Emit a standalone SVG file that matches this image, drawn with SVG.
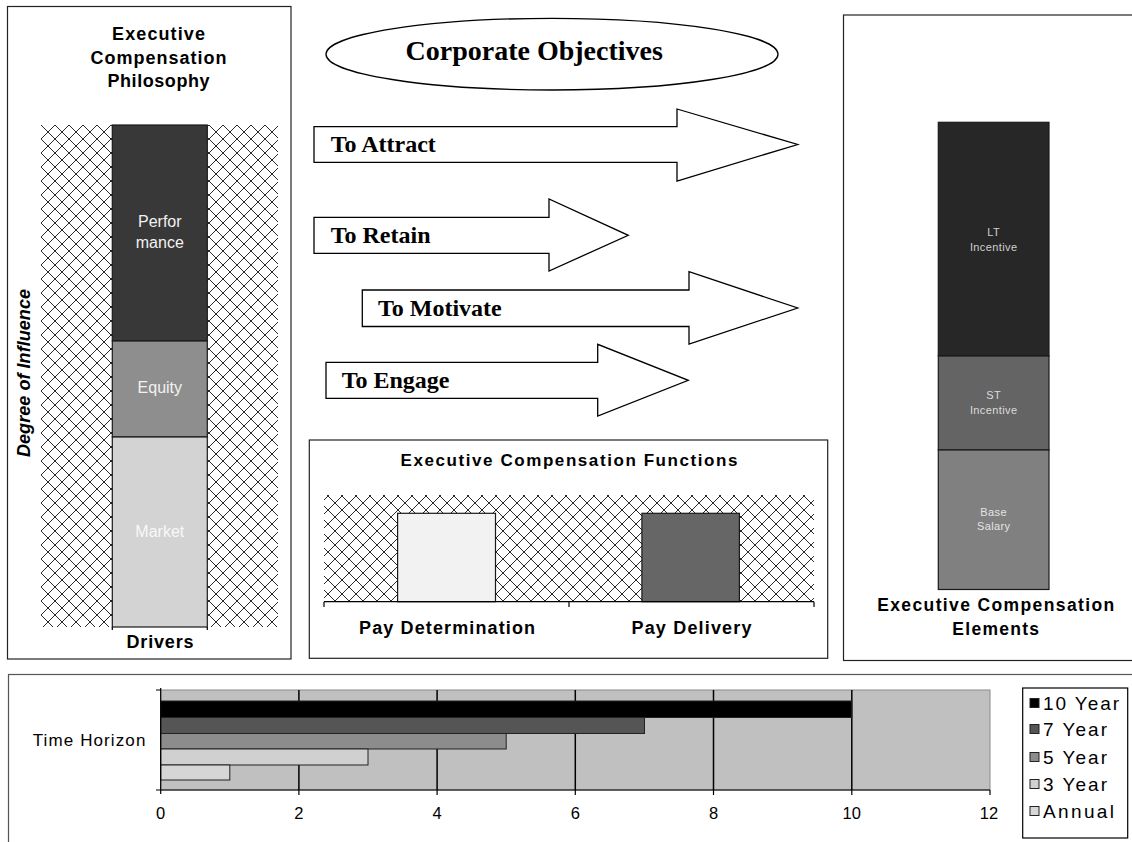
<svg xmlns="http://www.w3.org/2000/svg" width="1132" height="842" viewBox="0 0 1132 842">
<defs>
<pattern id="hatch" width="14" height="14" patternUnits="userSpaceOnUse" x="41" y="125">
<rect width="14" height="14" fill="#fff"/>
<path d="M0 0L14 14M14 0L0 14" stroke="#111" stroke-width="0.9" fill="none"/>
</pattern>
<style>
.box{fill:#fff;stroke:#222;stroke-width:1.2}
.sb{font-family:"Liberation Sans",Arial,sans-serif;font-weight:bold;fill:#000}
.sr{font-family:"Liberation Sans",Arial,sans-serif;fill:#000}
.tb{font-family:"Liberation Serif","Times New Roman",serif;font-weight:bold;fill:#000}
.arrow{fill:#fff;stroke:#000;stroke-width:1.3;stroke-linejoin:miter}
.seg{stroke:#1a1a1a;stroke-width:1.2}
.wl{font-family:"Liberation Sans",Arial,sans-serif;font-size:16px;text-anchor:middle}
.sm{font-family:"Liberation Sans",Arial,sans-serif;font-size:11px;text-anchor:middle}
.bar{stroke:#222;stroke-width:1}
.grid{stroke:#000;stroke-width:1.5}
.tick{stroke:#000;stroke-width:1.2}
</style>
</defs>

<g id="philosophy">
<rect class="box" x="7.5" y="6.5" width="283.5" height="652.5"/>
<text class="sb" font-size="18" text-anchor="middle" x="158.5" y="40" textLength="93" lengthAdjust="spacing">Executive</text>
<text class="sb" font-size="18" text-anchor="middle" x="158.5" y="63.5" textLength="136" lengthAdjust="spacing">Compensation</text>
<text class="sb" font-size="18" text-anchor="middle" x="158.5" y="87" textLength="102" lengthAdjust="spacing">Philosophy</text>
<rect x="41" y="125" width="237" height="502" fill="url(#hatch)"/>
<rect class="seg" x="112.3" y="125" width="95" height="216" fill="#383838"/>
<rect class="seg" x="112.3" y="341" width="95" height="96" fill="#8e8e8e"/>
<rect class="seg" x="112.3" y="437" width="95" height="190" fill="#d3d3d3"/>
<path class="tick" d="M112.3 627V630M207.3 627V630" fill="none"/>
<text class="wl" x="159.8" y="227" fill="#f2f2f2">Perfor</text>
<text class="wl" x="159.8" y="247.5" fill="#f2f2f2">mance</text>
<text class="wl" x="159.8" y="393.3" fill="#f2f2f2">Equity</text>
<text class="wl" x="159.8" y="536.7" fill="#f8f8f8">Market</text>
<text class="sb" font-size="18" text-anchor="middle" x="160" y="648" textLength="67" lengthAdjust="spacing">Drivers</text>
<text class="sb" font-size="18" font-style="italic" text-anchor="middle" transform="translate(29.5,373) rotate(-90)" textLength="168" lengthAdjust="spacing">Degree of Influence</text>
</g>

<g id="corporate-objectives">
<ellipse cx="552" cy="54.2" rx="226" ry="35.8" fill="#fff" stroke="#000" stroke-width="1.3"/>
<text class="tb" font-size="28" x="405.5" y="60">Corporate Objectives</text>
</g>

<g id="connectors">
<g id="to-attract">
<path class="arrow" d="M314 126.7H677V109L797.7 144.5L677 181V162.3H314Z"/>
<text class="tb" font-size="24" x="330.7" y="152.3">To Attract</text>
</g>
<g id="to-retain">
<path class="arrow" d="M314 217.3H549V199L628.3 235.3L549 271V253.3H314Z"/>
<text class="tb" font-size="24" x="330.7" y="243.3">To Retain</text>
</g>
<g id="to-motivate">
<path class="arrow" d="M362.3 290H689V271.7L797.7 308L689 344V326.5H362.3Z"/>
<text class="tb" font-size="24" x="378" y="316">To Motivate</text>
</g>
<g id="to-engage">
<path class="arrow" d="M326 362.3H597.7V344.3L688.3 380.3L597.7 416V398.3H326Z"/>
<text class="tb" font-size="24" x="341.7" y="387.5">To Engage</text>
</g>
</g>

<g id="functions">
<rect class="box" x="309.3" y="440" width="518.4" height="218.3"/>
<text class="sb" font-size="17" text-anchor="middle" x="569" y="466" textLength="337" lengthAdjust="spacing">Executive Compensation Functions</text>
<rect x="324" y="495" width="490" height="106.7" fill="url(#hatch)"/>
<rect class="seg" x="397.6" y="513.3" width="97.9" height="88.4" fill="#f2f2f2"/>
<rect class="seg" x="641.9" y="513.3" width="97.5" height="88.4" fill="#666"/>
<path class="tick" d="M324 601.7H814M324 601.7V607M569 601.7V607M814 601.7V607" fill="none"/>
<text class="sb" font-size="18" text-anchor="middle" x="447" y="634" textLength="176" lengthAdjust="spacing">Pay Determination</text>
<text class="sb" font-size="18" text-anchor="middle" x="691.5" y="634" textLength="120" lengthAdjust="spacing">Pay Delivery</text>
</g>

<g id="elements">
<rect class="box" x="843.5" y="15" width="300" height="645.5"/>
<rect class="seg" x="938.3" y="122.3" width="110.7" height="233.7" fill="#272727"/>
<rect class="seg" x="938.3" y="356" width="110.7" height="94" fill="#646464"/>
<rect class="seg" x="938.3" y="450" width="110.7" height="139.5" fill="#808080"/>
<text class="sm" x="993.7" y="235.5" fill="#cfcfcf" letter-spacing="0.4">LT</text>
<text class="sm" x="993.7" y="250.7" fill="#cfcfcf" letter-spacing="0.4">Incentive</text>
<text class="sm" x="993.7" y="399" fill="#dcdcdc" letter-spacing="0.4">ST</text>
<text class="sm" x="993.7" y="414" fill="#dcdcdc" letter-spacing="0.4">Incentive</text>
<text class="sm" x="993.7" y="515.5" fill="#e4e4e4" letter-spacing="0.4">Base</text>
<text class="sm" x="993.7" y="530" fill="#e4e4e4" letter-spacing="0.4">Salary</text>
<text class="sb" font-size="17.5" text-anchor="middle" x="995.7" y="611" textLength="237" lengthAdjust="spacing">Executive Compensation</text>
<text class="sb" font-size="17.5" text-anchor="middle" x="995.7" y="634.5" textLength="86.7" lengthAdjust="spacing">Elements</text>
</g>

<g id="time-horizon">
<rect x="8.5" y="674.5" width="1200" height="300" fill="#fff" stroke="#555" stroke-width="1.2"/>
<rect x="160.7" y="690" width="829.3" height="100" fill="#c0c0c0" stroke="#8a8a8a" stroke-width="1"/>
<path class="grid" d="M298.9 690V790M437.1 690V790M575.3 690V790M713.5 690V790M851.8 690V790" fill="none"/>
<rect class="bar" x="160.7" y="701" width="691.1" height="16.5" fill="#000"/>
<rect class="bar" x="160.7" y="717.5" width="483.8" height="16" fill="#555"/>
<rect class="bar" x="160.7" y="733.5" width="345.5" height="15.5" fill="#8c8c8c"/>
<rect class="bar" x="160.7" y="749" width="207.3" height="16" fill="#d0d0d0"/>
<rect class="bar" x="160.7" y="765" width="69.1" height="15" fill="#d6d6d6"/>
<path class="tick" d="M160.7 688V794M156 690H160.7M156 790H160.7M160.7 790H990M298.9 790V795M437.1 790V795M575.3 790V795M713.5 790V795M851.8 790V795M990 790V795" fill="none"/>
<text class="sr" font-size="17" text-anchor="end" x="145.4" y="745.5" textLength="112.7" lengthAdjust="spacing">Time Horizon</text>
<g class="sr" font-size="16.5" text-anchor="middle">
<text x="160.7" y="819">0</text>
<text x="298.9" y="819">2</text>
<text x="437.1" y="819">4</text>
<text x="575.3" y="819">6</text>
<text x="713.5" y="819">8</text>
<text x="851.8" y="819">10</text>
<text x="989" y="819">12</text>
</g>
<g id="legend">
<rect x="1022.7" y="688" width="105" height="150" fill="#fff" stroke="#000" stroke-width="1.2"/>
<rect class="bar" x="1030" y="698.5" width="9" height="9" fill="#000"/>
<rect class="bar" x="1030" y="724.5" width="9" height="9" fill="#555"/>
<rect class="bar" x="1030" y="752.5" width="9" height="9" fill="#8c8c8c"/>
<rect class="bar" x="1030" y="779.5" width="9" height="9" fill="#d0d0d0"/>
<rect class="bar" x="1030" y="806.5" width="9" height="9" fill="#d6d6d6"/>
<text class="sr" font-size="19" x="1043" y="709.5" textLength="76" lengthAdjust="spacing">10 Year</text>
<text class="sr" font-size="19" x="1043" y="735.5" textLength="64" lengthAdjust="spacing">7 Year</text>
<text class="sr" font-size="19" x="1043" y="763.5" textLength="64" lengthAdjust="spacing">5 Year</text>
<text class="sr" font-size="19" x="1043" y="790.5" textLength="64" lengthAdjust="spacing">3 Year</text>
<text class="sr" font-size="19" x="1043" y="817.5" textLength="71" lengthAdjust="spacing">Annual</text>
</g>
</g>
</svg>
